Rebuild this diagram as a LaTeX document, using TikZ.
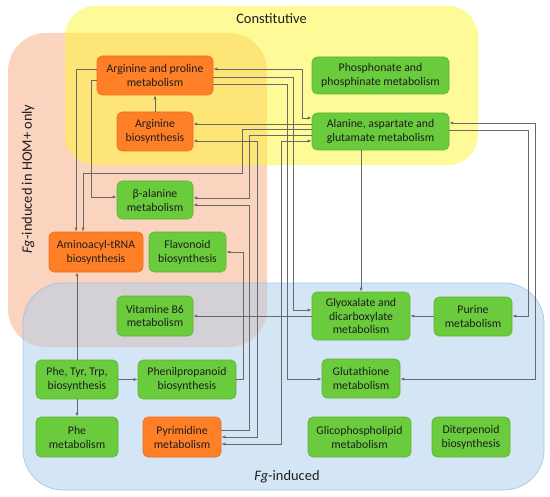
\documentclass[tikz,border=0pt]{standalone}
\usepackage{fontspec}
\setmainfont{Carlito}
\usetikzlibrary{arrows.meta}
\definecolor{gfill}{RGB}{106,203,60}
\definecolor{gdraw}{RGB}{92,180,48}
\definecolor{ofill}{RGB}{255,127,39}
\definecolor{odraw}{RGB}{232,110,30}
\definecolor{yreg}{RGB}{255,245,50}
\definecolor{sreg}{RGB}{248,170,130}
\definecolor{breg}{RGB}{170,205,235}
\definecolor{bdraw}{RGB}{150,190,225}
\definecolor{lc}{RGB}{105,105,105}
\definecolor{txt}{RGB}{30,30,30}
\begin{document}
\begin{tikzpicture}[x=1bp,y=-1bp,
  box/.style={rounded corners=5bp, inner sep=1bp, align=center, text=txt,
    line width=0.6bp, font=\fontsize{11.8}{14}\selectfont},
  gbox/.style={box, fill=gfill, draw=gdraw},
  obox/.style={box, fill=ofill, draw=odraw},
  conn/.style={draw=lc, line width=0.8bp, -{Latex[length=4bp,width=3.2bp]}},
  conntwo/.style={draw=lc, line width=0.8bp, {Latex[length=4bp,width=3.2bp]}-{Latex[length=4bp,width=3.2bp]}},
  lbl/.style={text=txt, font=\fontsize{14.5}{17}\selectfont, inner sep=0pt}]
\useasboundingbox (0,0) rectangle (550,497);
% regions
\fill[sreg, fill opacity=0.5, rounded corners=38bp] (8,33) rectangle (267,347);
\fill[yreg, fill opacity=0.5, rounded corners=30bp] (65,6) rectangle (478,165);
\path[fill=breg, fill opacity=0.5, draw=bdraw, draw opacity=0.8, line width=0.7bp, rounded corners=40bp] (23,283) rectangle (544,490);
% region labels
\node[lbl] (constlbl) at (271.5,19) {Constitutive};
\node[lbl] (fglbl) at (287,477) {\textit{Fg}-induced};
\node[lbl, rotate=90] (homlbl) at (28,179) {\textit{Fg}-induced in HOM+ only};
% nodes
\node[obox, minimum width=116bp, minimum height=39bp] (argpro) at (155,75.5) {Arginine and proline\\metabolism};
\node[obox, minimum width=76bp, minimum height=39bp] (argbio) at (155,131.5) {Arginine\\biosynthesis};
\node[gbox, minimum width=76bp, minimum height=38bp] (balan) at (155,200) {β-alanine\\metabolism};
\node[obox, minimum width=94bp, minimum height=40bp] (amino) at (96,252) {Aminoacyl-tRNA\\biosynthesis};
\node[gbox, minimum width=77bp, minimum height=40bp] (flav) at (187.5,252) {Flavonoid\\biosynthesis};
\node[gbox, minimum width=76bp, minimum height=40bp] (vitb6) at (155,316) {Vitamine B6\\metabolism};
\node[gbox, minimum width=82bp, minimum height=39bp] (phetyr) at (77,379.5) {Phe, Tyr, Trp,\\biosynthesis};
\node[gbox, minimum width=98bp, minimum height=39bp] (phenil) at (187,379.5) {Phenilpropanoid\\biosynthesis};
\node[gbox, minimum width=82bp, minimum height=40bp] (phemet) at (77,437) {Phe\\metabolism};
\node[obox, minimum width=78bp, minimum height=40bp] (pyrim) at (182,437) {Pyrimidine\\metabolism};
\node[gbox, minimum width=137bp, minimum height=37bp] (phosph) at (380.5,75.5) {Phosphonate and\\phosphinate metabolism};
\node[gbox, minimum width=137bp, minimum height=37bp] (alanine) at (380.5,131.5) {Alanine, aspartate and\\glutamate metabolism};
\node[gbox, minimum width=98bp, minimum height=48bp] (glyox) at (361,316) {Glyoxalate and\\dicarboxylate\\metabolism};
\node[gbox, minimum width=78bp, minimum height=39bp] (purine) at (473,316.5) {Purine\\metabolism};
\node[gbox, minimum width=78bp, minimum height=39bp] (gluta) at (361,378.5) {Glutathione\\metabolism};
\node[gbox, minimum width=103bp, minimum height=40bp] (glico) at (359.5,437) {Glicophospholipid\\metabolism};
\node[gbox, minimum width=78bp, minimum height=40bp] (diterp) at (471,437) {Diterpenoid\\biosynthesis};
% connectors
\draw[conn] (argbio.north) -- (argpro.south);
\draw[conn] (argpro.west |- 0,69) -| (76,0 |- amino.north);
\draw[conn] (argpro.west |- 0,80) -| (91,197) -- (balan.west |- 0,197);
\draw[conntwo] (argpro.east |- 0,69) -| (302,118) -- (alanine.west |- 0,118);
\draw[conn] (argpro.east |- 0,77) -| (293,310) -- (glyox.west |- 0,310);
\draw[conn] (argpro.east |- 0,84) -| (287,379) -- (gluta.west |- 0,379);
\draw[conn] (alanine.west |- 0,124) -- (argbio.east |- 0,124);
\draw[conn] (alanine.west |- 0,129) -| (242,173) -| (83,0 |- amino.north);
\draw[conn] (alanine.west |- 0,135) -| (249,198) -- (balan.east |- 0,198);
\draw[conn] (pyrim.east |- 0,430) -| (249,205) -- (balan.east |- 0,205);
\draw[conntwo] (pyrim.east |- 0,437) -| (257,141) -- (argbio.east |- 0,141);
\draw[conntwo] (pyrim.east |- 0,444) -| (281,141) -- (alanine.west |- 0,141);
\draw[conn] (glyox.north |- alanine.south) -- (glyox.north);
\draw[conntwo] (alanine.east |- 0,123) -| (535,379) -- (gluta.east |- 0,379);
\draw[conn] (alanine.east |- 0,130) -| (528,316) -- (purine.east |- 0,316);
\draw[conn] (purine.west |- 0,316) -- (glyox.east |- 0,316);
\draw[conn] (glyox.west |- 0,316) -- (vitb6.east |- 0,316);
\draw[conn] (phetyr.north) -- (phetyr.north |- amino.south);
\draw[conn] (phetyr.south) -- (phemet.north);
\draw[conn] (phetyr.east) -- (phenil.west);
\draw[conn] (phenil.east) -| (243,0 |- flav.east) -- (flav.east);
\end{tikzpicture}
\end{document}
